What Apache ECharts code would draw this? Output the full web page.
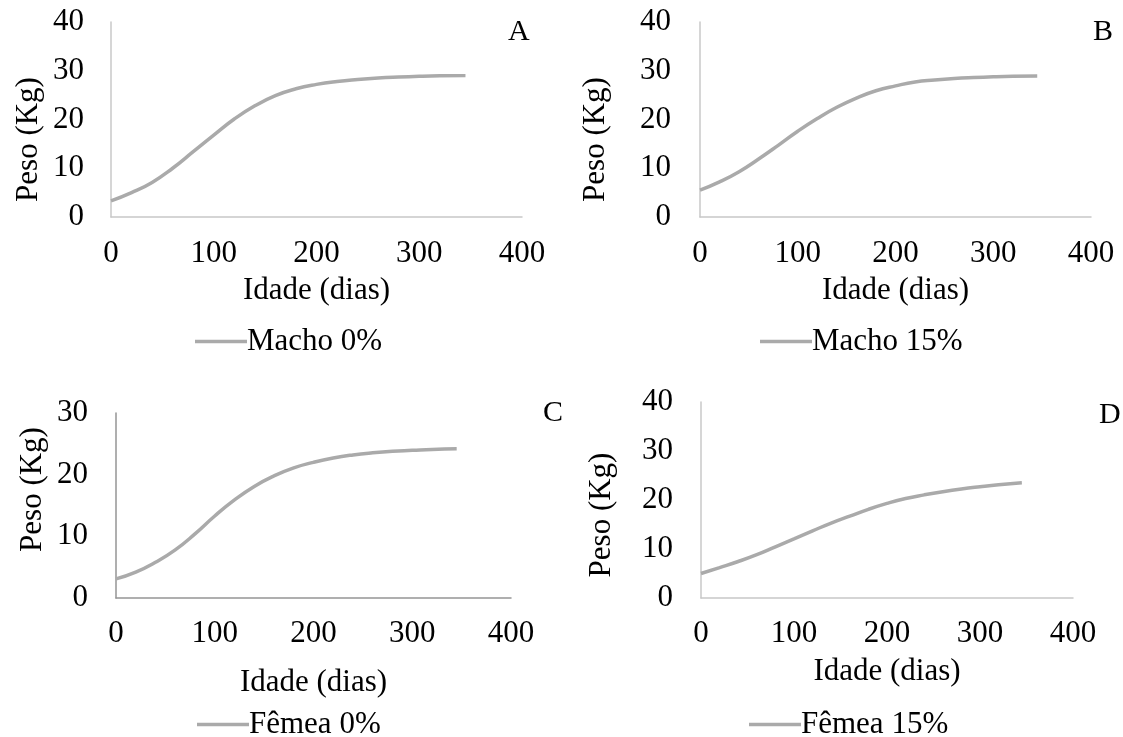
<!DOCTYPE html>
<html>
<head>
<meta charset="utf-8">
<script src="https://cdn.jsdelivr.net/npm/echarts@6/dist/echarts.min.js"></script>
<style>html,body{margin:0;padding:0;background:#fff}#c{width:1123px;height:737px}</style>
</head>
<body>
<div id="c"></div>
<script>
// Age (days) at which the curves were read
const days = [0, 20, 40, 60, 80, 100, 120, 140, 160, 180, 200, 220, 240, 260, 280, 300, 320, 345];
// Weight (kg)
const machoZero    = [3.3, 5.0, 7.1, 10.0, 13.4, 16.8, 20.1, 22.8, 24.9, 26.3, 27.2, 27.8, 28.2, 28.5, 28.7, 28.85, 28.95, 29.0];
const machoFifteen = [5.5, 7.2, 9.3, 11.9, 14.7, 17.6, 20.2, 22.5, 24.4, 25.9, 26.9, 27.7, 28.1, 28.4, 28.6, 28.75, 28.85, 28.9];
const femeaZero    = [3.1, 4.2, 5.8, 7.8, 10.4, 13.3, 15.9, 18.1, 19.8, 21.1, 22.0, 22.7, 23.2, 23.55, 23.8, 23.95, 24.1, 24.2];
const femeaFifteen = [5.0, 6.2, 7.45, 8.85, 10.45, 12.05, 13.7, 15.3, 16.7, 18.1, 19.3, 20.3, 21.05, 21.7, 22.25, 22.7, 23.1, 23.5];
const seriesNames  = ['Macho 0%', 'Macho 15%', 'Fêmea 0%', 'Fêmea 15%'];
const panelLetters = ['A', 'B', 'C', 'D'];
const xTicks = [0, 100, 200, 300, 400];
const yMaxes = [40, 40, 30, 40];
const yInterval = 10;

const allSeries = [machoZero, machoFifteen, femeaZero, femeaFifteen];
const FONT = 'Liberation Serif';
const FS = 31;

// layout per panel (pixels)
const grids = [
  {left: 111, top: 22, width: 411, height: 195},
  {left: 700, top: 22, width: 391, height: 195},
  {left: 116, top: 413, width: 395, height: 185},
  {left: 701, top: 402, width: 372, height: 196}
];
const yNameGap = [67, 89, 68, 84];
// shift of the rotated y-axis title along the axis (right pad = down, left pad = up)
const yNamePad = [[0, 40, 0, 0], [0, 40, 0, 0], [0, 0, 0, 32], [0, 30, 0, 0]];
const yLabelMargin = [27, 29, 28, 28];
const xNameGap = [58, 58, 69, 58];
const xLabelMargin = [21, 21, 20, 20];
const legendPos = [
  {left: 190, top: 321},
  {left: 755, top: 321},
  {left: 192, top: 704},
  {left: 744, top: 704}
];
const letterPos = [
  {left: 503, top: 12},
  {left: 1088, top: 12},
  {left: 538, top: 393},
  {left: 1094, top: 395}
];
const axisColors = ['#c8c8c8', '#c8c8c8', '#959595', '#c8c8c8'];

const option = {
  animation: false,
  backgroundColor: '#fff',
  grid: grids.map(g => Object.assign({containLabel: false}, g)),
  title: panelLetters.map((t, i) => ({
    text: t, left: letterPos[i].left, top: letterPos[i].top,
    textStyle: {fontFamily: FONT, fontSize: FS - 1, fontWeight: 'normal', color: '#000'}
  })),
  legend: seriesNames.map((n, i) => ({
    data: [n], left: legendPos[i].left, top: legendPos[i].top,
    icon: 'rect', itemWidth: 52, itemHeight: 3.5, itemGap: 0,
    textStyle: {fontFamily: FONT, fontSize: FS, color: '#000', padding: [0, 0, 0, -5]},
    selectedMode: false
  })),
  xAxis: grids.map((g, i) => ({
    type: 'value', gridIndex: i, min: xTicks[0], max: xTicks[xTicks.length - 1], interval: 100,
    name: 'Idade (dias)', nameLocation: 'middle', nameGap: xNameGap[i],
    nameTextStyle: {fontFamily: FONT, fontSize: FS, color: '#000'},
    axisLine: {show: true, lineStyle: {color: axisColors[i], width: 1.5}},
    axisTick: {show: false}, splitLine: {show: false},
    axisLabel: {fontFamily: FONT, fontSize: FS, color: '#000', margin: xLabelMargin[i]}
  })),
  yAxis: grids.map((g, i) => ({
    type: 'value', gridIndex: i, min: 0, max: yMaxes[i], interval: yInterval,
    name: 'Peso (Kg)', nameLocation: 'middle', nameGap: yNameGap[i], nameRotate: 90,
    nameTextStyle: {fontFamily: FONT, fontSize: FS, color: '#000', padding: yNamePad[i]},
    axisLine: {show: true, lineStyle: {color: axisColors[i], width: 1.5}},
    axisTick: {show: false}, splitLine: {show: false},
    axisLabel: {fontFamily: FONT, fontSize: FS, color: '#000', margin: yLabelMargin[i]}
  })),
  series: allSeries.map((vals, i) => ({
    name: seriesNames[i], type: 'line', xAxisIndex: i, yAxisIndex: i,
    data: days.map((d, k) => [d, vals[k]]),
    smooth: true, showSymbol: false, symbol: 'none',
    lineStyle: {color: '#aaaaaa', width: 3.5}, itemStyle: {color: '#aaaaaa'}
  }))
};
const chart = echarts.init(document.getElementById('c'), null, {renderer: 'canvas'});
chart.setOption(option);
</script>
</body>
</html>
